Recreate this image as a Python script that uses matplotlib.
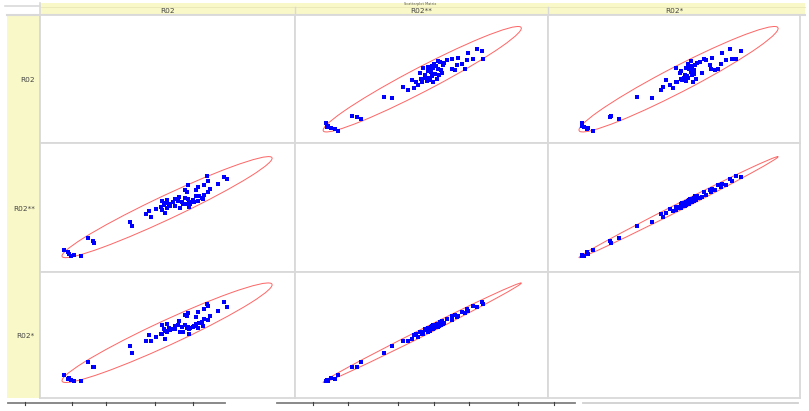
import numpy as np
import matplotlib
matplotlib.use('Agg')
import matplotlib.pyplot as plt
from matplotlib.patches import Ellipse, Rectangle

# Variables of the scatterplot matrix (no tick labels shown, so values are on a 0-100 scale)
names = ['R02', 'R02**', 'R02*']

r02 = [15.9, 13.3, 11.5, 9.4, 12.2, 11.0,
       21.3, 20.6, 19.0,
       36.2, 35.4,
       43.5, 41.4, 42.7, 45.3, 47.9, 49.2,
       55.0, 58.5, 48.5, 56.0, 60.5, 62.0, 50.0, 58.0, 63.5, 54.0, 49.0, 53.0, 52.0, 54.5, 61.0, 47.5, 59.0, 64.0, 48.0,
       64.5, 66.0, 57.0, 66.5, 62.0, 58.0, 64.5, 70.0, 66.0, 73.5, 72.0, 65.5, 57.5, 61.0,
       57.5, 60.0, 51.0, 57.0, 55.5, 53.0, 50.5, 58.5, 50.0, 62.5]

r02_ss = [12.1, 13.2, 14.2, 17.1, 12.5, 15.7,
          22.7, 24.4, 26.1,
          35.3, 38.5,
          42.8, 44.8, 47.2, 48.5, 47.7, 46.1,
          49.4, 50.7, 52.0, 52.7, 54.0, 55.1, 56.0, 56.6, 57.3, 55.3, 53.4, 51.4, 54.3, 58.0, 58.6, 50.1, 52.4, 56.4, 54.7,
          59.9, 61.9, 63.2, 64.6, 65.9, 67.2, 67.8, 68.5, 70.5, 71.8, 73.8, 74.4, 61.9, 63.9,
          53.0, 55.8, 51.2, 57.6, 53.9, 56.9, 52.8, 54.6, 49.8, 58.9]

r02_s = [13.5, 13.6, 16.0, 17.9, 14.4, 15.4,
         25.0, 24.8, 28.2,
         35.5, 41.2,
         45.6, 44.9, 49.8, 48.4, 50.6, 46.8,
         52.3, 50.9, 54.6, 52.6, 57.1, 55.4, 58.8, 56.3, 60.4, 57.9, 53.2, 54.5, 55.0, 61.1, 58.4, 51.0, 55.5, 56.9, 57.6,
         62.8, 62.0, 66.1, 64.9, 68.6, 67.5, 70.7, 69.1, 73.2, 72.4, 76.5, 74.8, 64.7, 64.2,
         55.8, 56.0, 53.9, 57.8, 56.7, 57.1, 55.5, 54.9, 52.6, 59.3]

data = [np.array(r02), np.array(r02_ss), np.array(r02_s)]
lims = (0, 100)

W, H = 809, 411
fig = plt.figure(figsize=(W / 100, H / 100), dpi=100)

yellow = '#f9f8c8'
gridc = '#d9d9d9'

# background layer in pixel units
bg = fig.add_axes([0, 0, 1, 1])
bg.set_xlim(0, W)
bg.set_ylim(H, 0)
bg.axis('off')

bg.add_patch(Rectangle((40, 3), 765, 12, color=yellow, lw=0))
bg.add_patch(Rectangle((7, 15), 33, 383, color=yellow, lw=0))
bg.plot([5, 40], [6.5, 6.5], color=gridc, lw=1.2)
bg.plot([40, 805], [7, 7], color='#e9e7b8', lw=0.6)
bg.plot([7, 805], [15, 15], color=gridc, lw=1.5)
bg.plot([40, 40], [3, 398], color=gridc, lw=1.2)
bg.text(420, 4.3, 'Scatterplot Matrix', fontsize=2.5, color='#555555', ha='center', va='center')

cols = [(40, 295), (295, 548), (548, 800)]
rows = [(15, 143), (143, 272), (272, 398)]

for j, (x0, x1) in enumerate(cols):
    bg.text((x0 + x1) / 2, 11.3, names[j], fontsize=5.3, color='#444444', ha='center', va='center')
    if j > 0:
        bg.plot([x0, x0], [7, 15], color=gridc, lw=1)
for i, (y0, y1) in enumerate(rows):
    bg.text(35, (y0 + y1) / 2 + 1, names[i], fontsize=5.3, color='#444444', ha='right', va='center')

# bottom scroll/axis strips
for (a, b), c in zip([(8, 225), (277, 575), (583, 798)], ['#808080', '#808080', '#d0d0d0']):
    bg.plot([a, b], [403, 403], color=c, lw=1.3)
for t in [25, 72, 106, 155, 193, 313, 348, 398, 434, 469, 518, 554]:
    bg.plot([t, t], [401.5, 404.5], color='#404040', lw=0.8)
bg.add_patch(Rectangle((539, 147), 5, 2, color='#bbbbbb', lw=0))

# scatter panels
chi2_95 = 5.991
for i, (y0, y1) in enumerate(rows):
    for j, (x0, x1) in enumerate(cols):
        ax = fig.add_axes([x0 / W, 1 - y1 / H, (x1 - x0) / W, (y1 - y0) / H])
        ax.set_xlim(lims)
        ax.set_ylim(lims)
        ax.set_xticks([])
        ax.set_yticks([])
        ax.set_facecolor('white')
        for s in ax.spines.values():
            s.set_color(gridc)
            s.set_linewidth(1.3)
        if i == j:
            continue
        x = data[j]
        y = data[i]
        ax.scatter(x, y, marker='s', s=11, c='#0000ff', linewidths=0, zorder=3)
        cov = np.cov(x, y)
        vals, vecs = np.linalg.eigh(cov)
        angle = np.degrees(np.arctan2(vecs[1, 1], vecs[0, 1]))
        ell = Ellipse((x.mean(), y.mean()), 2 * np.sqrt(chi2_95 * vals[1]), 2 * np.sqrt(chi2_95 * vals[0]),
                      angle=angle, fill=False, ec='#ff6464', lw=0.7, zorder=2)
        ax.add_patch(ell)

fig.savefig('out.png', dpi=100)
